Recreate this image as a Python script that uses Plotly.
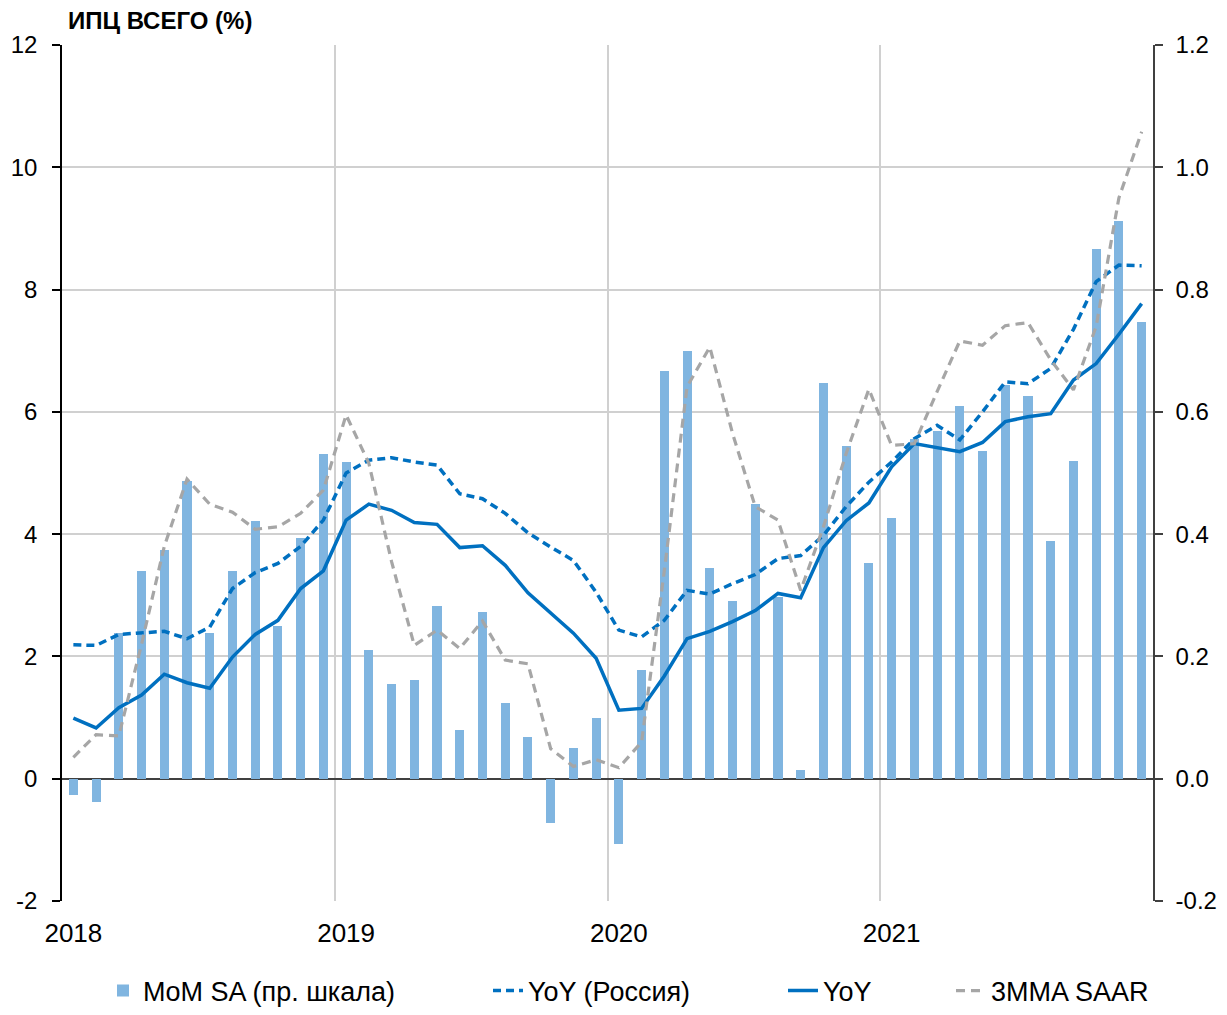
import plotly.graph_objects as go

# ---- data ----
years = ["2018", "2019", "2020", "2021"]
month_index = list(range(48))  # Jan 2018 .. Dec 2021
year_tick_pos = [0, 12, 24, 36]
year_boundaries_start = -0.5

left_ticks = [-2, 0, 2, 4, 6, 8, 10, 12]
left_tick_text = ["-2", "0", "2", "4", "6", "8", "10", "12"]
right_ticks = [-0.2, 0.0, 0.2, 0.4, 0.6, 0.8, 1.0, 1.2]
right_tick_text = ["-0.2", "0.0", "0.2", "0.4", "0.6", "0.8", "1.0", "1.2"]

mom_sa = [
    -0.027, -0.038, 0.239, 0.339, 0.374, 0.487, 0.239, 0.339, 0.421, 0.249, 0.393, 0.531,
    0.518, 0.210, 0.155, 0.162, 0.282, 0.080, 0.273, 0.124, 0.069, -0.073, 0.050, 0.099,
    -0.107, 0.177, 0.667, 0.699, 0.345, 0.290, 0.450, 0.298, 0.015, 0.647, 0.544, 0.353,
    0.427, 0.556, 0.568, 0.610, 0.536, 0.644, 0.626, 0.388, 0.519, 0.866, 0.912, 0.747,
]
yoy_russia = [
    2.19, 2.18, 2.36, 2.39, 2.41, 2.29, 2.48, 3.11, 3.37, 3.52, 3.80, 4.23,
    5.00, 5.21, 5.25, 5.18, 5.13, 4.66, 4.58, 4.34, 4.02, 3.79, 3.57, 3.05,
    2.43, 2.32, 2.59, 3.08, 3.02, 3.19, 3.34, 3.60, 3.65, 3.98, 4.45, 4.85,
    5.18, 5.56, 5.78, 5.54, 6.00, 6.49, 6.46, 6.71, 7.35, 8.13, 8.40, 8.39,
]
yoy = [
    0.99, 0.83, 1.16, 1.37, 1.71, 1.57, 1.48, 1.99, 2.36, 2.59, 3.11, 3.40,
    4.23, 4.49, 4.39, 4.19, 4.16, 3.78, 3.81, 3.49, 3.04, 2.71, 2.38, 1.97,
    1.12, 1.15, 1.68, 2.29, 2.41, 2.57, 2.75, 3.03, 2.96, 3.78, 4.22, 4.51,
    5.10, 5.48, 5.41, 5.35, 5.50, 5.84, 5.92, 5.97, 6.52, 6.79, 7.27, 7.77,
]
mma3_saar = [
    0.35, 0.72, 0.70, 2.20, 3.80, 4.90, 4.49, 4.36, 4.08, 4.12, 4.34, 4.72,
    5.95, 5.16, 3.55, 2.18, 2.43, 2.13, 2.58, 1.94, 1.88, 0.49, 0.20, 0.31,
    0.18, 0.60, 3.40, 6.41, 7.06, 5.65, 4.45, 4.23, 3.08, 4.12, 5.32, 6.37,
    5.45, 5.48, 6.33, 7.16, 7.09, 7.41, 7.46, 6.85, 6.36, 7.40, 9.50, 10.58,
]

FONT = "Liberation Sans, Arial, sans-serif"
BLUE = "#0070C0"
BAR = "#80B5E0"
GRAY = "#A6A6A6"
GRID = "#D0D0D0"
AXIS = "#404040"

# figure geometry (page body adds an 8px offset)
W, H = 1211, 999
ML, MT, PW, PH = 54, 37, 1091, 856


def lx(screen_px):
    return (screen_px - 8 - ML) / PW


LEG_Y = (PH + MT + 8 - 991) / PH

fig = go.Figure()

fig.add_trace(go.Bar(
    x=month_index, y=mom_sa, name="MoM SA (пр. шкала)",
    marker=dict(color=BAR, line=dict(width=0)), width=0.4,
    yaxis="y", legend="legend",
))
fig.add_trace(go.Scatter(
    x=month_index, y=yoy_russia, name="YoY (Россия)", mode="lines",
    line=dict(color=BLUE, width=3.5, dash="8px,5px"), yaxis="y2",
    legend="legend2",
))
fig.add_trace(go.Scatter(
    x=month_index, y=yoy, name="YoY", mode="lines",
    line=dict(color=BLUE, width=3.5), yaxis="y2", legend="legend3",
))
fig.add_trace(go.Scatter(
    x=month_index, y=mma3_saar, name="3MMA SAAR", mode="lines",
    line=dict(color=GRAY, width=3.2, dash="9px,6px"), yaxis="y2",
    legend="legend4",
))

leg_common = dict(orientation="h", xanchor="left", yanchor="middle", y=LEG_Y,
                  font=dict(family=FONT, size=27, color="black"),
                  bgcolor="rgba(0,0,0,0)")

fig.update_layout(
    width=W, height=H,
    margin=dict(l=ML, r=W - ML - PW, t=MT, b=H - MT - PH, autoexpand=False),
    paper_bgcolor="white", plot_bgcolor="white",
    font=dict(family=FONT, size=25, color="black"),
    showlegend=True,
    bargap=0,
    title=dict(
        text="<b>ИПЦ ВСЕГО (%)</b>", x=(68 - 8) / W, xanchor="left",
        y=1 - (21 - 8) / H, yanchor="middle",
        font=dict(family=FONT, size=24, color="black"),
    ),
    xaxis=dict(
        range=[-0.5, 47.5],
        tickmode="array", tickvals=year_tick_pos, ticktext=years,
        ticks="outside", ticklen=9, tickcolor="rgba(0,0,0,0)",
        ticklabelstandoff=0,
        showgrid=False, zeroline=False, showline=False,
        minor=dict(showgrid=True, gridcolor=GRID, gridwidth=1.5,
                   tick0=year_boundaries_start, dtick=12, ticks=""),
        tickfont=dict(size=26), automargin=False,
    ),
    yaxis=dict(
        side="right", range=[-0.2, 1.2],
        tickmode="array", tickvals=right_ticks, ticktext=right_tick_text,
        showgrid=True, gridcolor=GRID, gridwidth=1.5,
        zeroline=True, zerolinecolor=AXIS, zerolinewidth=1.5,
        showline=True, linecolor=AXIS, linewidth=1.5,
        ticks="outside", ticklen=8, tickcolor=AXIS, tickwidth=1.5,
        ticklabelstandoff=8,
        tickfont=dict(size=24), automargin=False,
    ),
    yaxis2=dict(
        overlaying="y", side="left", range=[-2, 12],
        tickmode="array", tickvals=left_ticks, ticktext=left_tick_text,
        showgrid=False, zeroline=False,
        showline=True, linecolor="black", linewidth=1.5,
        ticks="outside", ticklen=8, tickcolor="black", tickwidth=1.5,
        ticklabelstandoff=10,
        tickfont=dict(size=24), automargin=False,
    ),
    legend=dict(x=lx(145 - 42), **leg_common),
    legend2=dict(x=lx(530 - 42), **leg_common),
    legend3=dict(x=lx(825 - 42), **leg_common),
    legend4=dict(x=lx(993 - 42), **leg_common),
)

fig.write_html("out.html")
